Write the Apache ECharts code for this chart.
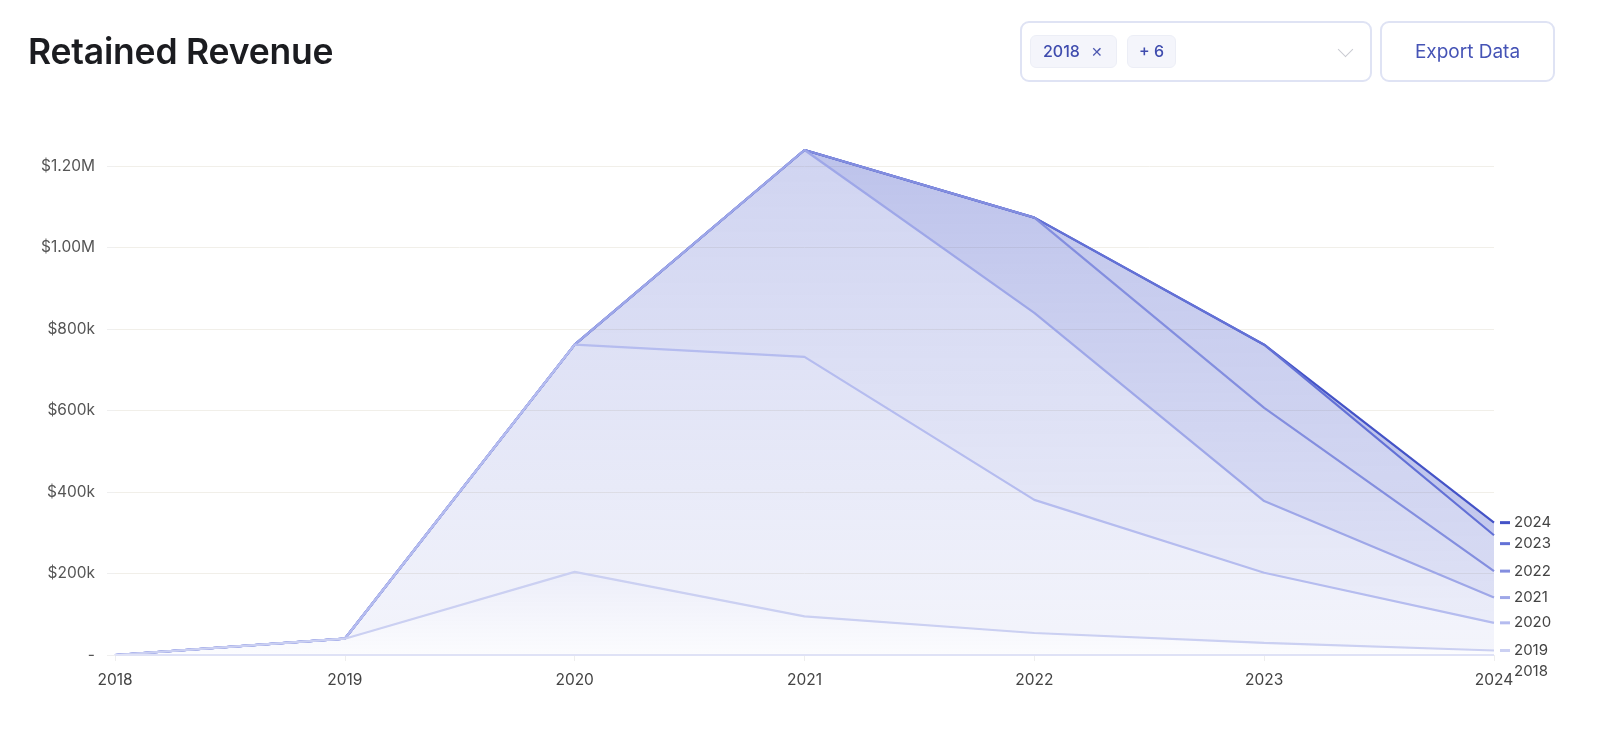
<!DOCTYPE html>
<html>
<head>
<meta charset="utf-8">
<script src="https://cdn.jsdelivr.net/npm/echarts@6/dist/echarts.min.js"></script>
<style>
  html, body { margin: 0; padding: 0; background: #fff; }
  body { width: 1600px; height: 745px; position: relative; overflow: hidden; font-family: Inter, "Noto Sans", sans-serif; }
  #title { position: absolute; left: 28px; top: 30px; font-size: 35.5px; font-weight: 600; color: #1b1c20; letter-spacing: -0.2px; }
  .box { position: absolute; top: 21px; height: 57px; border: 2px solid #dfe3f4; border-radius: 9px; box-sizing: content-box; }
  #select { left: 1020px; width: 348px; }
  #export { left: 1380px; width: 171px; color: #4654b6; font-size: 19px; line-height: 57px; text-align: center; }
  .chip { position: absolute; top: 12px; height: 33px; background: #f4f5fb; border: 1px solid #eceef6; border-radius: 6px; box-sizing: border-box; color: #3f4cae; font-size: 16px; font-weight: 500; line-height: 31px; }
  #chip1 { left: 8px; width: 87px; padding-left: 12px; }
  #chip1 span { font-size: 14px; margin-left: 11px; color: #4d58b0; }
  #chip2 { left: 105px; width: 49px; text-align: center; }
  #chev { position: absolute; left: 318px; top: 21px; width: 10px; height: 10px; border-right: 1.5px solid #c9cad1; border-bottom: 1.5px solid #c9cad1; transform: rotate(45deg); }
  #chart { position: absolute; left: 0; top: 0; width: 1600px; height: 745px; }
</style>
</head>
<body>
<div id="chart"></div>
<div id="title">Retained Revenue</div>
<div class="box" id="select">
  <div class="chip" id="chip1">2018<span>✕</span></div>
  <div class="chip" id="chip2">+ 6</div>
  <div id="chev"></div>
</div>
<div class="box" id="export">Export Data</div>
<script>
// x axis years
var years = ['2018', '2019', '2020', '2021', '2022', '2023', '2024'];

// y axis tick values
var yTicks = [0, 200000, 400000, 600000, 800000, 1000000, 1200000];

// cohort names (stack order, bottom to top)
var cohorts = ['2018', '2019', '2020', '2021', '2022', '2023', '2024'];

// retained revenue per cohort, per year
var rev2018 = [0, 0, 0, 0, 0, 0, 0];
var rev2019 = [0, 40000, 204000, 95000, 54000, 30000, 11000];
var rev2020 = [0, 0, 558000, 637000, 327000, 172000, 68000];
var rev2021 = [0, 0, 0, 508000, 459000, 176000, 62000];
var rev2022 = [0, 0, 0, 0, 234000, 229000, 65000];
var rev2023 = [0, 0, 0, 0, 0, 155000, 88000];
var rev2024 = [0, 0, 0, 0, 0, 0, 31000];

var cohortData = [rev2018, rev2019, rev2020, rev2021, rev2022, rev2023, rev2024];

// styling per cohort
var lineColors = ['#dfe2f6', '#cbd0f2', '#b5bcef', '#9ea7e8', '#838edf', '#6371d6', '#4453c7'];
var areaTop = [0.03, 0.10, 0.18, 0.26, 0.36, 0.34, 0.44];
var areaBottom = [0.01, 0.02, 0.06, 0.10, 0.16, 0.20, 0.28];

function money(v) {
    if (v === 0) return '-';
    if (v >= 1000000) return '$' + (v / 1000000).toFixed(2) + 'M';
    return '$' + Math.round(v / 1000) + 'k';
}

var chart = echarts.init(document.getElementById('chart'));

var series = cohorts.map(function (name, i) {
    return {
        name: name,
        type: 'line',
        stack: 'total',
        data: cohortData[i],
        symbol: 'none',
        z: 20 - i,
        lineStyle: { width: 2.2, color: lineColors[i] },
        itemStyle: { color: lineColors[i] },
        areaStyle: {
            color: new echarts.graphic.LinearGradient(0, 0, 0, 1, [
                { offset: 0, color: 'rgba(72,88,200,' + areaTop[i] + ')' },
                { offset: 1, color: 'rgba(72,88,200,' + areaBottom[i] + ')' }
            ]),
            opacity: 1
        },
        endLabel: {
            show: true,
            formatter: '{d|}{t|{a}}',
            distance: 6,
            fontSize: 15,
            lineHeight: 21,
            height: 21,
            rich: {
                d: { width: 10, height: 3, backgroundColor: i === 0 ? 'transparent' : lineColors[i] },
                t: { color: '#444', fontSize: 15, fontFamily: 'Inter', lineHeight: 21, padding: [0, 0, 0, 4] }
            }
        },
        labelLayout: { moveOverlap: 'shiftY' }
    };
});

var option = {
    animation: false,
    grid: { left: 115, right: 106, top: 150, bottom: 90 },
    xAxis: {
        type: 'category',
        data: years,
        boundaryGap: false,
        axisLine: { show: true, lineStyle: { color: '#f3f3f3' } },
        axisTick: { show: true, length: 6, lineStyle: { color: '#eeeeee' } },
        axisLabel: { color: '#444', fontSize: 15.5, fontFamily: 'Inter', margin: 17 }
    },
    yAxis: {
        type: 'value',
        min: 0,
        max: 'dataMax',
        interval: 200000,
        axisLine: { show: false },
        axisTick: { show: true, length: 8, customValues: yTicks, lineStyle: { color: '#efefef' } },
        splitLine: { lineStyle: { color: '#f1efe9', width: 1 } },
        axisLabel: { color: '#555', fontSize: 15.5, fontFamily: 'Inter', margin: 20, customValues: yTicks, formatter: money }
    },
    series: series
};

chart.setOption(option);
</script>
</body>
</html>
